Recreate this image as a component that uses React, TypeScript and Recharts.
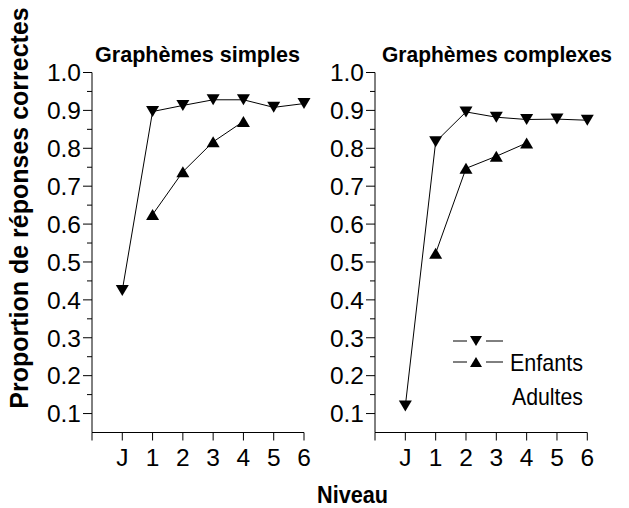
import React from 'react';
import { LineChart, Line, XAxis, YAxis } from 'recharts';

const levels = ['J', '1', '2', '3', '4', '5', '6'];

const simplesDown = [0.425, 0.897, 0.913, 0.928, 0.928, 0.908, 0.918];
const simplesUp = [null, 0.625, 0.738, 0.817, 0.871, null, null];
const complexesDown = [0.12, 0.817, 0.896, 0.882, 0.876, 0.877, 0.874];
const complexesUp = [null, 0.523, 0.747, 0.779, 0.814, null, null];

const yTicks = [0.1, 0.15, 0.2, 0.25, 0.3, 0.35, 0.4, 0.45, 0.5, 0.55, 0.6, 0.65, 0.7, 0.75, 0.8, 0.85, 0.9, 0.95, 1.0];
const xTicks = [0, 1, 2, 3, 4, 5, 6, 7];

const FONT = '"Liberation Sans", Arial, sans-serif';

function makeRows(down: (number | null)[], up: (number | null)[]) {
  return levels.map((lv, i) => ({ x: i + 1, level: lv, down: down[i], up: up[i] }));
}

const triangle = (dir: 'up' | 'down') => (props: any) => {
  const { cx, cy, value, index } = props;
  if (cx == null || cy == null || value == null) return <g key={`e${index}`} />;
  const w = 6.5;
  const h = 5.5;
  const pts =
    dir === 'down'
      ? `${cx - w},${cy - h} ${cx + w},${cy - h} ${cx},${cy + h}`
      : `${cx - w},${cy + h} ${cx + w},${cy + h} ${cx},${cy - h}`;
  return <polygon key={`t${index}`} points={pts} fill="#000" />;
};

const YTick = (props: any) => {
  const { x, y, payload } = props;
  const v = payload.value;
  const major = Math.abs(v * 10 - Math.round(v * 10)) < 0.01;
  return (
    <g>
      <line x1={x - (major ? 9 : 5)} x2={x} y1={y} y2={y} stroke="#000" strokeWidth={1} />
      {major && (
        <text x={x - 11} y={y} dy="0.36em" textAnchor="end" fontSize={24.5} fontFamily={FONT} fill="#000">
          {v.toFixed(1)}
        </text>
      )}
    </g>
  );
};

function Panel({ rows, left, width, marginLeft, marginRight }: any) {
  return (
    <div style={{ position: 'absolute', left, top: 0 }}>
      <LineChart
        width={width}
        height={508}
        data={rows}
        margin={{ top: 72.5, right: marginRight, bottom: 40.5, left: marginLeft }}
      >
        <XAxis
          dataKey="x"
          type="number"
          domain={[0, 7]}
          ticks={xTicks}
          tickFormatter={(v: number) => (v === 0 ? '' : levels[v - 1])}
          axisLine={{ stroke: '#000', strokeWidth: 1 }}
          tickLine={{ stroke: '#000', strokeWidth: 1 }}
          tickSize={8}
          tickMargin={8}
          height={35}
          tick={{ fill: '#000', fontSize: 24.5, fontFamily: FONT }}
        />
        <YAxis
          type="number"
          domain={[0.05, 1.0]}
          ticks={yTicks}
          interval={0}
          width={60}
          axisLine={{ stroke: '#000', strokeWidth: 1 }}
          tickLine={false}
          tickSize={0}
          tickMargin={0}
          tick={<YTick />}
        />
        <Line
          dataKey="down"
          type="linear"
          stroke="#000"
          strokeWidth={1}
          dot={triangle('down')}
          activeDot={false}
          isAnimationActive={false}
        />
        <Line
          dataKey="up"
          type="linear"
          stroke="#000"
          strokeWidth={1}
          dot={triangle('up')}
          activeDot={false}
          isAnimationActive={false}
        />
      </LineChart>
    </div>
  );
}

export default function App() {
  return (
    <div style={{ position: 'absolute', left: 0, top: 0, width: 629, height: 508, background: '#fff' }}>
      <Panel rows={makeRows(simplesDown, simplesUp)} left={0} width={320} marginLeft={32} marginRight={16} />
      <Panel rows={makeRows(complexesDown, complexesUp)} left={300} width={329} marginLeft={15} marginRight={41.7} />
      <svg width={629} height={508} style={{ position: 'absolute', left: 0, top: 0, pointerEvents: 'none' }}>
        <g fontFamily={FONT} fill="#000">
          <text x={95} y={62} fontSize={22} fontWeight="bold" textLength={205} lengthAdjust="spacingAndGlyphs">
            Graphèmes simples
          </text>
          <text x={382} y={62} fontSize={22} fontWeight="bold" textLength={230} lengthAdjust="spacingAndGlyphs">
            Graphèmes complexes
          </text>
          <text
            x={0}
            y={0}
            transform="translate(28 208) rotate(-90)"
            textAnchor="middle"
            fontSize={25}
            fontWeight="bold"
          >
            Proportion de réponses correctes
          </text>
          <text x={317} y={503} fontSize={23} fontWeight="bold" textLength={71} lengthAdjust="spacingAndGlyphs">
            Niveau
          </text>
          <line x1={453} x2={467} y1={341} y2={341} stroke="#000" strokeWidth={1} />
          <polygon points="470,336 482,336 476,346" fill="#000" />
          <line x1={486} x2={503} y1={341} y2={341} stroke="#000" strokeWidth={1} />
          <line x1={453} x2={467} y1={362} y2={362} stroke="#000" strokeWidth={1} />
          <polygon points="470,367 482,367 476,357" fill="#000" />
          <line x1={486} x2={503} y1={362} y2={362} stroke="#000" strokeWidth={1} />
          <text x={510} y={362} dy="0.36em" fontSize={24} textLength={73} lengthAdjust="spacingAndGlyphs">
            Enfants
          </text>
          <text x={512} y={396} dy="0.36em" fontSize={24} textLength={71} lengthAdjust="spacingAndGlyphs">
            Adultes
          </text>
        </g>
      </svg>
    </div>
  );
}
